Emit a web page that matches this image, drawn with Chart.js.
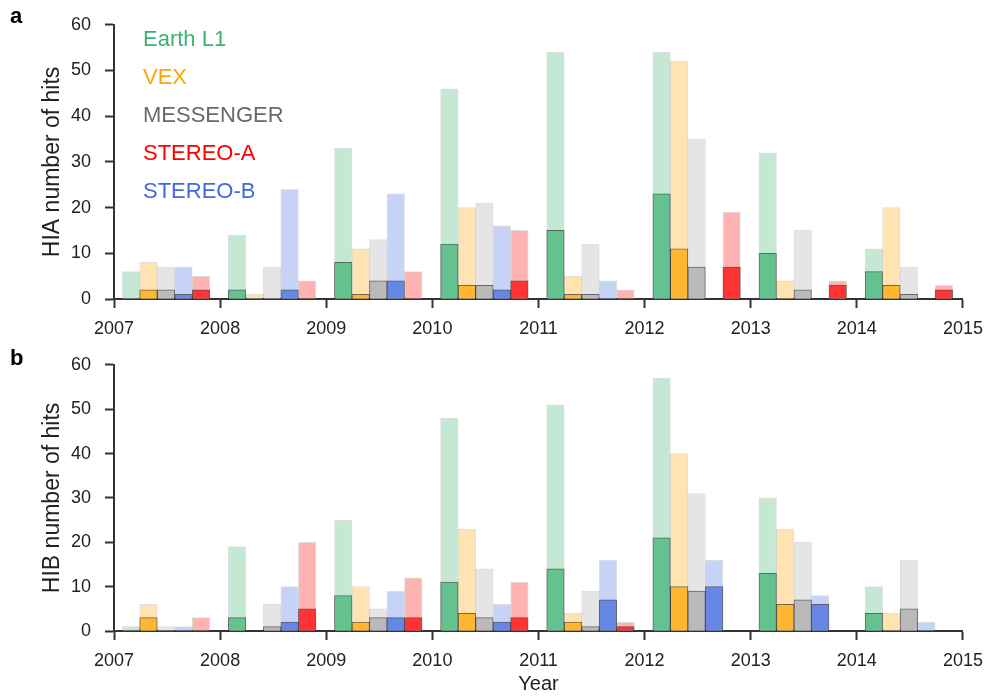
<!DOCTYPE html>
<html>
<head>
<meta charset="utf-8">
<script src="https://cdn.jsdelivr.net/npm/chart.js@4"></script>
<style>
  body { margin: 0; background: #fff; }
  #wrap { position: relative; width: 993px; height: 696px; }
  canvas { position: absolute; left: 0; }
</style>
</head>
<body>
<div id="wrap">
  <canvas id="chartA" width="993" height="340" style="top:0"></canvas>
  <canvas id="chartB" width="993" height="356" style="top:340px"></canvas>
</div>
<script>
// years on the x axis (one group of bars per year)
var years = [2007, 2008, 2009, 2010, 2011, 2012, 2013, 2014];
var yearTicks = [2007, 2008, 2009, 2010, 2011, 2012, 2013, 2014, 2015];
var seriesNames = ["Earth L1", "VEX", "MESSENGER", "STEREO-A", "STEREO-B"];

// HIA (panel a): all hits (light) and subset (dark)
var hiaEarth = [6, 14, 33, 46, 54, 54, 32, 11];
var hiaEarthSub = [0, 2, 8, 12, 15, 23, 10, 6];
var hiaVex = [8, 1, 11, 20, 5, 52, 4, 20];
var hiaVexSub = [2, 0, 1, 3, 1, 11, 0, 3];
var hiaMess = [7, 7, 13, 21, 12, 35, 15, 7];
var hiaMessSub = [2, 0, 4, 3, 1, 7, 2, 1];
var hiaStA = [5, 4, 6, 15, 2, 19, 4, 3];
var hiaStASub = [2, 0, 0, 4, 0, 7, 3, 2];
var hiaStB = [7, 24, 23, 16, 4, 0, 0, 0];
var hiaStBSub = [1, 2, 4, 2, 0, 0, 0, 0];

// HIB (panel b)
var hibEarth = [1, 19, 25, 48, 51, 57, 30, 10];
var hibEarthSub = [0, 3, 8, 11, 14, 21, 13, 4];
var hibVex = [6, 0, 10, 23, 4, 40, 23, 4];
var hibVexSub = [3, 0, 2, 4, 2, 10, 6, 0];
var hibMess = [1, 6, 5, 14, 9, 31, 20, 16];
var hibMessSub = [0, 1, 3, 3, 1, 9, 7, 5];
var hibStA = [3, 20, 12, 11, 2, 0, 0, 0];
var hibStASub = [0, 5, 3, 3, 1, 0, 0, 0];
var hibStB = [1, 10, 9, 6, 16, 16, 8, 2];
var hibStBSub = [0, 2, 3, 2, 7, 10, 6, 0];

var textColors = ["#3CB371", "#FFA500", "#696969", "#FF0000", "#4169E1"];
var darkColors = ["#63C28D", "#FFB733", "#BABABA", "#FF3333", "#6787E7"];
var lightColors = ["#C4E8D4", "#FFE4B2", "#E5E5E5", "#FFB2B2", "#C6D2F6"];
// bar order inside a year: green, orange, grey, blue, red
var barSlot = [0, 1, 2, 4, 3];
var slotStart = 0.16, slotWidth = 0.165;

Chart.defaults.font.family = '"Liberation Sans", Arial, sans-serif';
Chart.defaults.color = "#222";

function buildDatasets(totals, subsets) {
  var sets = [];
  seriesNames.forEach(function (name, i) {
    function toPoints(arr) {
      return years.map(function (yr, k) {
        return { x: yr + slotStart + slotWidth * barSlot[i], y: arr[k] ? arr[k] : null };
      });
    }
    sets.push({
      label: name,
      data: toPoints(subsets[i]),
      backgroundColor: darkColors[i],
      borderColor: "rgba(0,0,0,0.55)",
      borderWidth: 1,
      order: 1
    });
    sets.push({
      label: name + " (all)",
      data: toPoints(totals[i]),
      backgroundColor: lightColors[i],
      borderColor: "rgba(0,0,0,0.13)",
      borderWidth: 1,
      order: 2
    });
  });
  return sets;
}

var panelText = {
  id: "panelText",
  afterDraw: function (chart, args, opts) {
    var ctx = chart.ctx, area = chart.chartArea;
    ctx.save();
    ctx.font = 'bold 22px "Liberation Sans", Arial, sans-serif';
    ctx.fillStyle = "#000";
    ctx.textBaseline = "alphabetic";
    ctx.fillText(opts.letter, 10, opts.letterY);
    if (opts.legend) {
      ctx.font = '22px "Liberation Sans", Arial, sans-serif';
      ctx.textBaseline = "middle";
      seriesNames.forEach(function (name, i) {
        ctx.fillStyle = textColors[i];
        ctx.fillText(name, area.left + 29, area.top + 15 + i * 38);
      });
    }
    ctx.restore();
  }
};

function makeChart(canvasId, totals, subsets, cfg) {
  var ctx = document.getElementById(canvasId).getContext("2d");
  return new Chart(ctx, {
    type: "bar",
    data: { datasets: buildDatasets(totals, subsets) },
    plugins: [panelText],
    options: {
      responsive: false,
      animation: false,
      grouped: false,
      barPercentage: 1,
      categoryPercentage: 1,
      layout: { padding: { top: cfg.top, right: 23, left: 0, bottom: 0 } },
      plugins: {
        legend: { display: false },
        tooltip: { enabled: false },
        panelText: { letter: cfg.letter, letterY: cfg.letterY, legend: cfg.legend }
      },
      scales: {
        x: {
          type: "linear",
          offset: false,
          min: yearTicks[0],
          max: yearTicks[yearTicks.length - 1],
          afterBuildTicks: function (s) {
            s.ticks = yearTicks.map(function (v) { return { value: v }; });
          },
          afterFit: function (s) { s.height = cfg.xHeight; },
          border: { display: true, color: "#333", width: 2 },
          grid: { offset: false, drawOnChartArea: false, drawTicks: true, tickLength: 9, tickWidth: 2, tickColor: "#333" },
          ticks: {
            font: { size: 18 },
            padding: 10,
            maxRotation: 0,
            callback: function (v) { return String(v); }
          },
          title: {
            display: cfg.xTitle,
            text: "Year",
            font: { size: 20 },
            padding: { top: 0, bottom: 0 }
          }
        },
        y: {
          min: 0,
          max: 60,
          afterFit: function (s) { s.width = 114; },
          border: { display: true, color: "#333", width: 2 },
          grid: { drawOnChartArea: false, drawTicks: true, tickLength: 9, tickWidth: 2, tickColor: "#333" },
          ticks: { stepSize: 10, font: { size: 18 }, padding: 14 },
          title: {
            display: true,
            text: cfg.yTitle,
            font: { size: 23 },
            padding: { top: 39, bottom: 0 }
          }
        }
      }
    }
  });
}

makeChart("chartA",
  [hiaEarth, hiaVex, hiaMess, hiaStA, hiaStB],
  [hiaEarthSub, hiaVexSub, hiaMessSub, hiaStASub, hiaStBSub],
  { top: 23, xHeight: 41, letter: "a", letterY: 23, legend: true, xTitle: false, yTitle: "HIA number of hits" });

makeChart("chartB",
  [hibEarth, hibVex, hibMess, hibStA, hibStB],
  [hibEarthSub, hibVexSub, hibMessSub, hibStASub, hibStBSub],
  { top: 15, xHeight: 65, letter: "b", letterY: 25, legend: false, xTitle: true, yTitle: "HIB number of hits" });
</script>
</body>
</html>
